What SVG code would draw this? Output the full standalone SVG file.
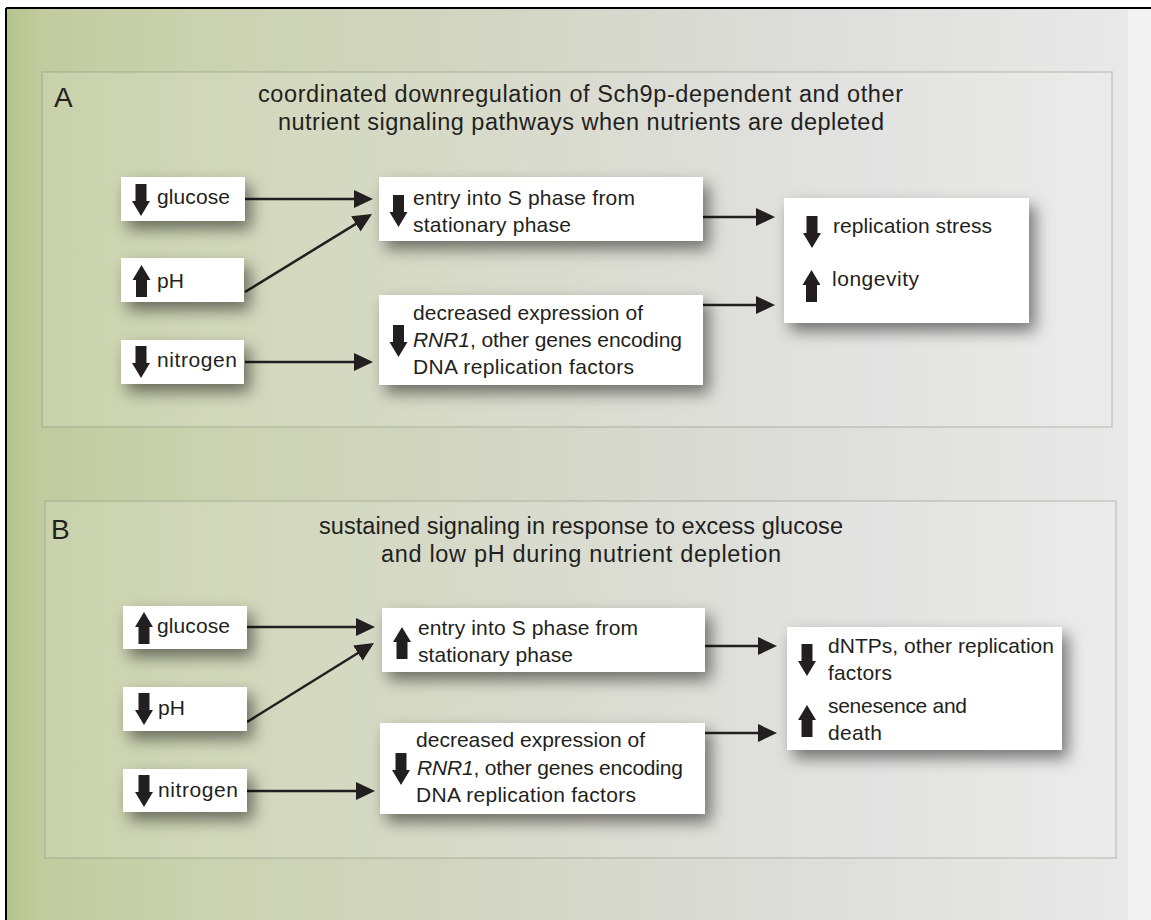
<svg xmlns="http://www.w3.org/2000/svg" width="1151" height="920" viewBox="0 0 1151 920">
<defs>
<linearGradient id="bg" x1="6" y1="0" x2="1128" y2="0" gradientUnits="userSpaceOnUse">
<stop offset="0" stop-color="#b4c48c"/>
<stop offset="0.03" stop-color="#c1cb9e"/>
<stop offset="0.18" stop-color="#cbd2b0"/>
<stop offset="0.45" stop-color="#d3d6c5"/>
<stop offset="0.72" stop-color="#dddddb"/>
<stop offset="1" stop-color="#e9e9e9"/>
</linearGradient>
<filter id="sh" x="-20%" y="-40%" width="150%" height="200%">
<feGaussianBlur in="SourceAlpha" stdDeviation="8"/>
<feOffset dx="6" dy="8" result="b"/>
<feComponentTransfer><feFuncA type="linear" slope="0.5"/></feComponentTransfer>
<feMerge><feMergeNode/><feMergeNode in="SourceGraphic"/></feMerge>
</filter>
<marker id="ah" viewBox="0 0 19 18" refX="13" refY="9" markerWidth="19" markerHeight="18" markerUnits="userSpaceOnUse" orient="auto">
<path d="M0,0 L19,9 L0,18 Z" fill="#231f20"/>
</marker>
<path id="dn" d="M-5.5,0 H5.5 V17 H9 L0,32 L-9,17 H-5.5 Z" fill="#231f20"/>
<path id="up" d="M-5.5,32 H5.5 V15 H9 L0,0 L-9,15 H-5.5 Z" fill="#231f20"/>
</defs>
<style>
text{font-family:"Liberation Sans",Arial,sans-serif;fill:#231f20;font-size:21px}
.ttl{font-size:23.5px}
.lbl{font-size:28px}
.box{fill:#ffffff;filter:url(#sh)}
.panel{fill:#ffffff;fill-opacity:0.12;stroke:#8e9480;stroke-opacity:0.4;stroke-width:1.5}
.con{stroke:#231f20;stroke-width:2.5;fill:none;marker-end:url(#ah)}
</style>
<rect x="0" y="0" width="1151" height="920" fill="#ffffff"/>
<rect x="6" y="8" width="1145" height="912" fill="url(#bg)"/>
<rect x="1128" y="9" width="23" height="911" fill="#f3f3f3"/>
<line x1="6" y1="8" x2="1151" y2="8" stroke="#000" stroke-width="2"/>
<line x1="6" y1="8" x2="6" y2="920" stroke="#000" stroke-width="2"/>

<g id="panelA">
<rect class="panel" x="42" y="72" width="1070" height="355"/>
<text class="lbl" x="54" y="107">A</text>
<text class="ttl" x="580.5" y="102" text-anchor="middle" textLength="645">coordinated downregulation of Sch9p-dependent and other</text>
<text class="ttl" x="581" y="130" text-anchor="middle" textLength="606">nutrient signaling pathways when nutrients are depleted</text>
</g>
<g id="panelB">
<rect class="panel" x="45" y="501" width="1071" height="357"/>
<text class="lbl" x="51" y="539">B</text>
<text class="ttl" x="581" y="534" text-anchor="middle" textLength="524">sustained signaling in response to excess glucose</text>
<text class="ttl" x="581" y="562" text-anchor="middle" textLength="400">and low pH during nutrient depletion</text>
</g>

<g id="connectors">
<line class="con" x1="245" y1="199" x2="367" y2="199"/>
<line class="con" x1="245" y1="292" x2="366.9" y2="217.1"/>
<line class="con" x1="245" y1="362" x2="367" y2="362"/>
<line class="con" x1="703" y1="217" x2="769" y2="217"/>
<line class="con" x1="703" y1="305" x2="769" y2="305"/>
<line class="con" x1="247" y1="627" x2="369" y2="627"/>
<line class="con" x1="247" y1="722" x2="368.9" y2="646.2"/>
<line class="con" x1="247" y1="791" x2="369" y2="791"/>
<line class="con" x1="705" y1="646" x2="771" y2="646"/>
<line class="con" x1="705" y1="733" x2="771" y2="733"/>
</g>

<g id="a-glucose">
<rect class="box" x="121" y="177" width="124" height="44"/>
<use href="#dn" x="141" y="184"/>
<text x="157" y="204" textLength="73">glucose</text>
</g>
<g id="a-ph">
<rect class="box" x="121" y="258" width="123" height="44"/>
<use href="#up" x="141.5" y="265"/>
<text x="157" y="288">pH</text>
</g>
<g id="a-nitrogen">
<rect class="box" x="121" y="340" width="123" height="44"/>
<use href="#dn" x="141" y="346"/>
<text x="157" y="367" textLength="80">nitrogen</text>
</g>
<g id="a-entry">
<rect class="box" x="379" y="177" width="324" height="64"/>
<use href="#dn" x="398.5" y="195"/>
<text x="413" y="205" textLength="222">entry into S phase from</text>
<text x="413" y="232" textLength="158">stationary phase</text>
</g>
<g id="a-expression">
<rect class="box" x="379" y="295" width="324" height="90"/>
<use href="#dn" x="398.5" y="325"/>
<text x="413" y="320" textLength="230">decreased expression of</text>
<text x="413" y="347" textLength="269"><tspan font-style="italic">RNR1</tspan>, other genes encoding</text>
<text x="413" y="374" textLength="221">DNA replication factors</text>
</g>
<g id="a-outcome">
<rect class="box" x="784" y="198" width="245" height="125"/>
<use href="#dn" x="812" y="216"/>
<text x="833" y="233" textLength="159">replication stress</text>
<use href="#up" x="811.5" y="270"/>
<text x="832" y="286" textLength="87">longevity</text>
</g>

<g id="b-glucose">
<rect class="box" x="123" y="606" width="124" height="43"/>
<use href="#up" x="144" y="612"/>
<text x="157" y="633" textLength="73">glucose</text>
</g>
<g id="b-ph">
<rect class="box" x="123" y="687" width="124" height="44"/>
<use href="#dn" x="144" y="693"/>
<text x="158" y="715">pH</text>
</g>
<g id="b-nitrogen">
<rect class="box" x="123" y="769" width="124" height="43"/>
<use href="#dn" x="144" y="775"/>
<text x="158" y="797" textLength="80">nitrogen</text>
</g>
<g id="b-entry">
<rect class="box" x="382" y="608" width="323" height="64"/>
<use href="#up" x="402" y="627"/>
<text x="418" y="635" textLength="220">entry into S phase from</text>
<text x="418" y="662" textLength="155">stationary phase</text>
</g>
<g id="b-expression">
<rect class="box" x="380" y="723" width="325" height="91"/>
<use href="#dn" x="401" y="753"/>
<text x="416" y="747" textLength="229">decreased expression of</text>
<text x="417" y="775" textLength="266"><tspan font-style="italic">RNR1</tspan>, other genes encoding</text>
<text x="416" y="802" textLength="220">DNA replication factors</text>
</g>
<g id="b-outcome">
<rect class="box" x="787" y="627" width="275" height="123"/>
<use href="#dn" x="807" y="644"/>
<text x="828" y="653" textLength="226">dNTPs, other replication</text>
<text x="828" y="680" textLength="64">factors</text>
<use href="#up" x="807" y="705"/>
<text x="828" y="713" textLength="139">senesence and</text>
<text x="828" y="740" textLength="54">death</text>
</g>
</svg>
